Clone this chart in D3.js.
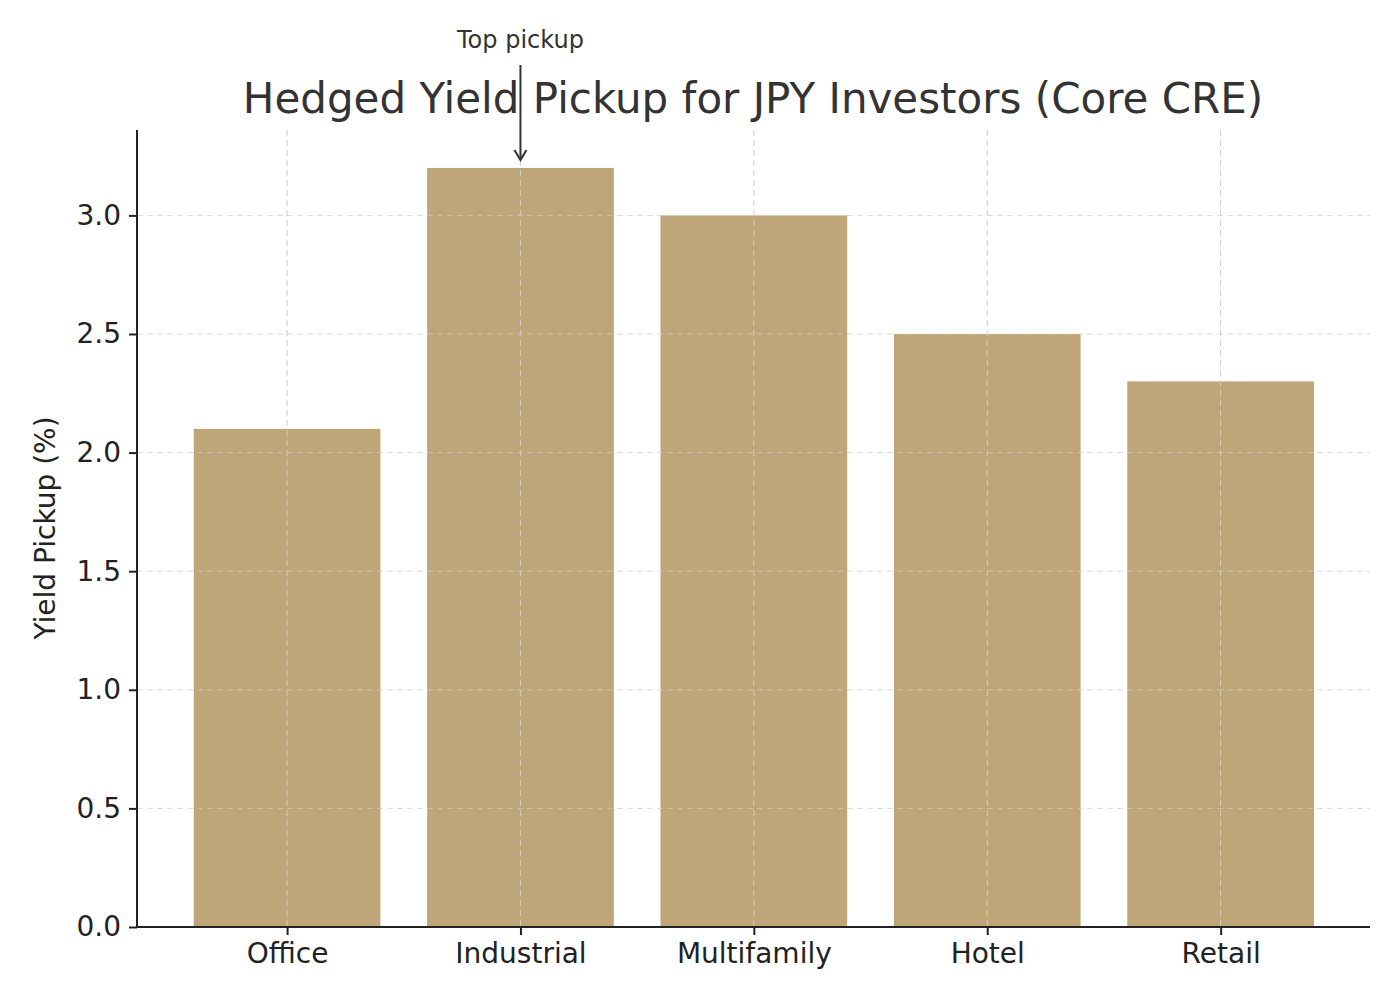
<!DOCTYPE html>
<html><head><meta charset="utf-8">
<script src="https://cdn.jsdelivr.net/npm/d3@7"></script>
<style>body{margin:0;background:#fff}svg{font-family:"DejaVu Sans",sans-serif}</style>
</head><body><svg id="c" width="1400" height="1000"></svg>
<script>
const categories = ["Office","Industrial","Multifamily","Hotel","Retail"];
const pickup = [2.1,3.2,3.0,2.5,2.3];
const yTicks = [0,0.5,1.0,1.5,2.0,2.5,3.0];

const svg = d3.select("#c");
const L=137,R=1370,T=130,B=927;
const x = d3.scaleLinear().domain([-0.643,4.64]).range([L,R]);
const y = d3.scaleLinear().domain([0,3.36]).range([B,T]);
const bw = x(0.8)-x(0);

svg.selectAll("rect.bar").data(pickup).join("rect")
  .attr("x",(d,i)=>x(i)-bw/2).attr("width",bw)
  .attr("y",d=>y(d)).attr("height",d=>B-y(d)).attr("fill","#bfa678");

// grid on top
const g = svg.append("g").attr("stroke","#cccccc").attr("stroke-dasharray","6,4").attr("stroke-width",1);
g.selectAll("line.h").data(yTicks).join("line").attr("x1",L).attr("x2",R).attr("y1",d=>y(d)).attr("y2",d=>y(d)).attr("stroke-opacity",0.7);
g.selectAll("line.v").data(categories).join("line").attr("x1",(d,i)=>x(i)).attr("x2",(d,i)=>x(i)).attr("y1",T).attr("y2",B);

const ax = svg.append("g").attr("transform",`translate(0,${B})`)
  .call(d3.axisBottom(x).tickValues(d3.range(categories.length)).tickFormat(i=>categories[i]).tickSize(8).tickPadding(8));
const ay = svg.append("g").attr("transform",`translate(${L},0)`)
  .call(d3.axisLeft(y).tickValues(yTicks).tickFormat(d3.format(".1f")).tickSize(8).tickPadding(8));
[ax,ay].forEach(a=>{a.selectAll("text").attr("font-size",28).attr("fill","#222").attr("font-family","DejaVu Sans");
  a.selectAll("line,path").attr("stroke","#222").attr("stroke-width",2);});
ax.select(".domain").attr("d",`M${L},0H${R}`);
ay.select(".domain").attr("d",`M0,${T}V${B}`);

svg.append("text").attr("x",753).attr("y",113).attr("text-anchor","middle").attr("font-size",42).attr("fill","#333")
  .text("Hedged Yield Pickup for JPY Investors (Core CRE)");
svg.append("text").attr("transform","translate(55,528) rotate(-90)").attr("text-anchor","middle").attr("font-size",28).attr("fill","#222")
  .text("Yield Pickup (%)");

const ix = x(1), iy = y(pickup[1]);
svg.append("text").attr("x",ix).attr("y",48).attr("text-anchor","middle").attr("font-size",24).attr("fill","#333").text("Top pickup");
svg.append("line").attr("x1",ix).attr("x2",ix).attr("y1",65).attr("y2",iy-8).attr("stroke","#333").attr("stroke-width",2);
svg.append("path").attr("d",`M${ix-6},${iy-18}L${ix},${iy-8}L${ix+6},${iy-18}`).attr("fill","none").attr("stroke","#333").attr("stroke-width",2);
</script></body></html>
